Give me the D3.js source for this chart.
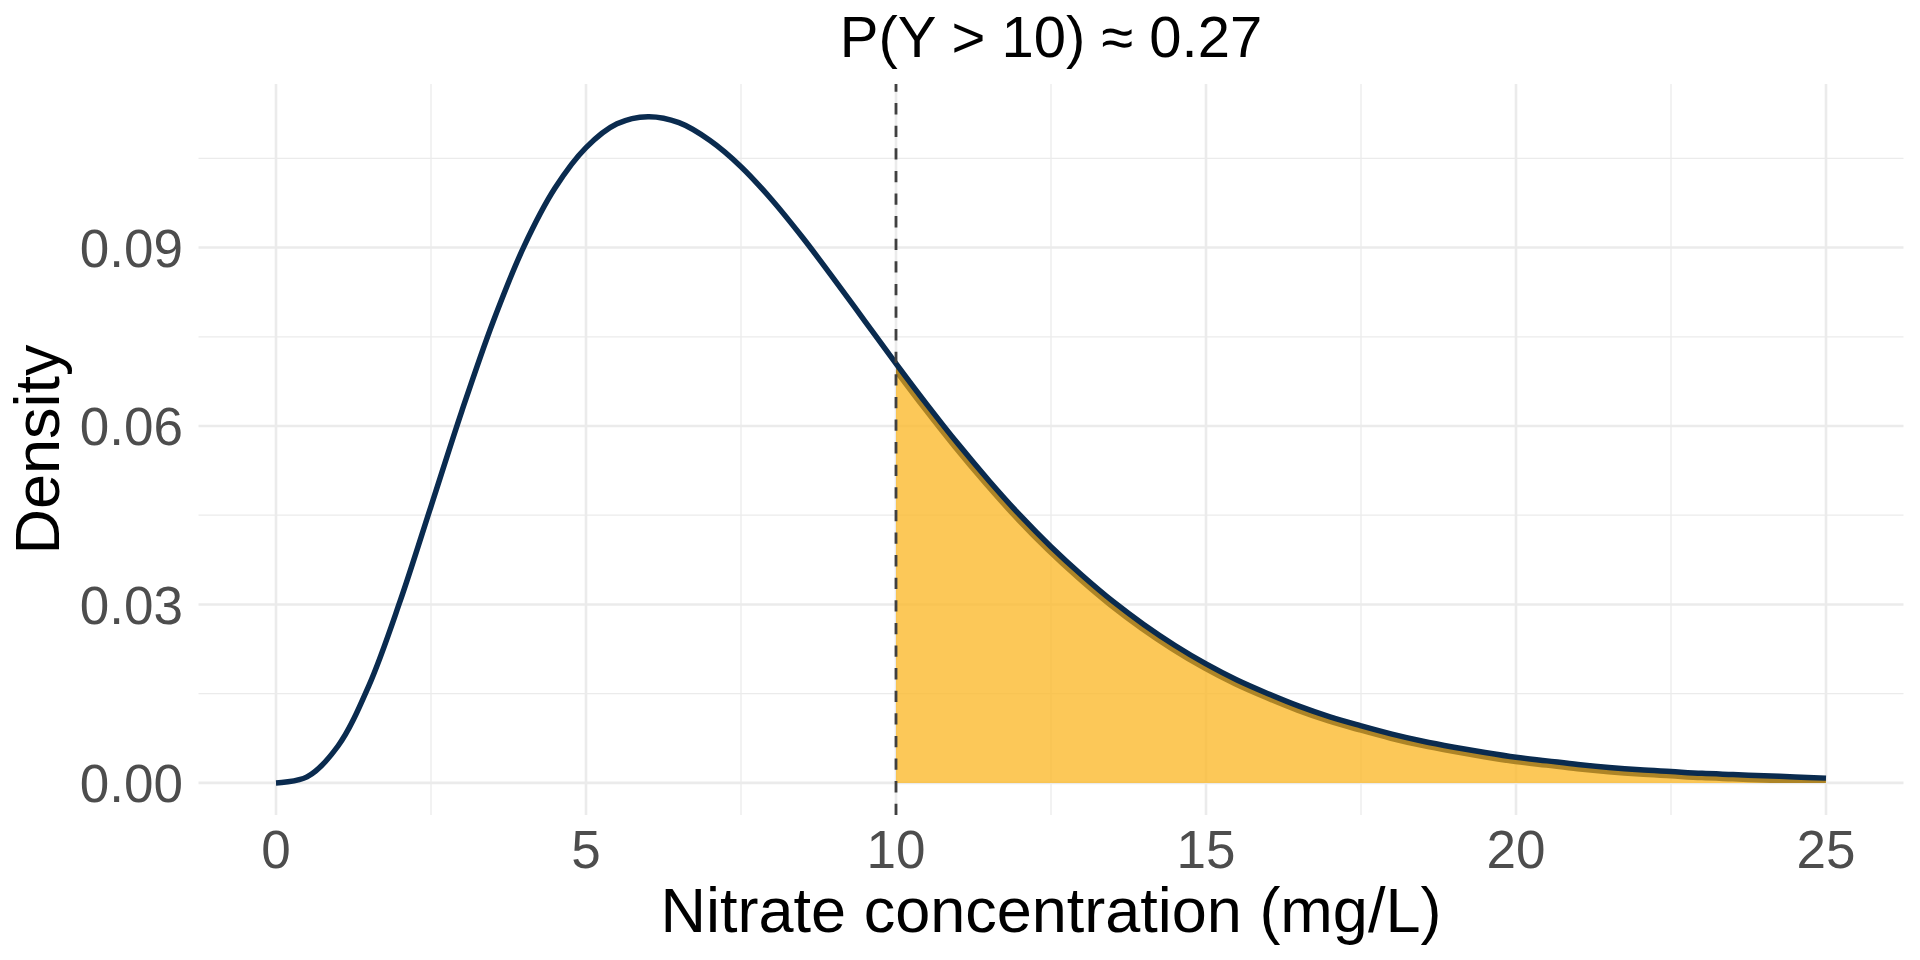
<!DOCTYPE html>
<html>
<head>
<meta charset="utf-8">
<script src="https://cdn.jsdelivr.net/npm/d3@7"></script>
<style>
  body { margin: 0; background: #ffffff; }
  svg { display: block; font-family: "Liberation Sans", Arial, Helvetica, sans-serif; }
</style>
</head>
<body>
<svg id="chart"></svg>
<script>
// values
var concentration = [0, 0.5, 1, 1.5, 2, 2.5, 3, 3.5, 4, 4.5, 5, 5.5, 6, 6.5, 7, 7.5, 8, 8.5, 9, 9.5,
  10, 10.5, 11, 11.5, 12, 12.5, 13, 13.5, 14, 14.5, 15, 15.5, 16, 16.5, 17, 17.5, 18, 18.5, 19, 19.5,
  20, 20.5, 21, 21.5, 22, 22.5, 23, 23.5, 24, 24.5, 25];
var density = [0.0000, 0.0010, 0.0062, 0.0164, 0.0305, 0.0465, 0.0626, 0.0775, 0.0902, 0.1000,
  0.1068, 0.1108, 0.1120, 0.1110, 0.1080, 0.1036, 0.0980, 0.0916, 0.0847, 0.0776,
  0.0705, 0.0636, 0.0570, 0.0508, 0.0450, 0.0397, 0.0349, 0.0305, 0.0266, 0.0231,
  0.0200, 0.0173, 0.0150, 0.0129, 0.0111, 0.0096, 0.0082, 0.0070, 0.0060, 0.0051,
  0.0043, 0.0037, 0.0031, 0.0026, 0.0022, 0.0019, 0.0016, 0.0014, 0.0012, 0.0010, 0.0008];
var threshold = 10;
var titleText = "P(Y > 10) \u2248 0.27";

var xMajor = [0, 5, 10, 15, 20, 25];
var xMinor = [2.5, 7.5, 12.5, 17.5, 22.5];
var yMajor = [0, 0.03, 0.06, 0.09];
var yMinor = [0.015, 0.045, 0.075, 0.105];

var width = 1920, height = 960;
var panel = { left: 198.5, right: 1903.5, top: 84, bottom: 815 };

var svg = d3.select("#chart")
  .attr("width", width)
  .attr("height", height);

var x = d3.scaleLinear().domain([-1.25, 26.25]).range([panel.left, panel.right]);
var y = d3.scaleLinear().domain([-0.0054, 0.1175]).range([panel.bottom, panel.top]);

var points = concentration.map(function(c, i) { return { x: c, y: density[i] }; });
var tail = points.filter(function(d) { return d.x >= threshold; });

// grid
var grid = svg.append("g");
grid.selectAll(".xminor").data(xMinor).enter().append("line")
  .attr("x1", d => x(d)).attr("x2", d => x(d))
  .attr("y1", panel.top).attr("y2", panel.bottom)
  .attr("stroke", "#ebebeb").attr("stroke-width", 1.3);
grid.selectAll(".yminor").data(yMinor).enter().append("line")
  .attr("y1", d => y(d)).attr("y2", d => y(d))
  .attr("x1", panel.left).attr("x2", panel.right)
  .attr("stroke", "#ebebeb").attr("stroke-width", 1.3);
grid.selectAll(".xmajor").data(xMajor).enter().append("line")
  .attr("x1", d => x(d)).attr("x2", d => x(d))
  .attr("y1", panel.top).attr("y2", panel.bottom)
  .attr("stroke", "#ebebeb").attr("stroke-width", 2.6);
grid.selectAll(".ymajor").data(yMajor).enter().append("line")
  .attr("y1", d => y(d)).attr("y2", d => y(d))
  .attr("x1", panel.left).attr("x2", panel.right)
  .attr("stroke", "#ebebeb").attr("stroke-width", 2.6);

var curve = d3.curveCatmullRom.alpha(0.5);

var area = d3.area()
  .x(d => x(d.x))
  .y0(y(0))
  .y1(d => y(d.y))
  .curve(curve);

var line = d3.line()
  .x(d => x(d.x))
  .y(d => y(d.y))
  .curve(curve);

// shaded tail
svg.append("clipPath").attr("id", "tailClip")
  .append("path").attr("d", area(tail));

svg.append("path")
  .attr("d", area(tail))
  .attr("fill", "#fbb829")
  .attr("fill-opacity", 0.78);

svg.append("path")
  .attr("d", line(tail))
  .attr("clip-path", "url(#tailClip)")
  .attr("fill", "none")
  .attr("stroke", "#ad8426")
  .attr("stroke-width", 14);

// density curve
svg.append("path")
  .attr("d", line(points))
  .attr("fill", "none")
  .attr("stroke", "#0a2b4f")
  .attr("stroke-width", 5.5)
  .attr("stroke-linecap", "butt")
  .attr("stroke-linejoin", "round");

// threshold line
svg.append("line")
  .attr("x1", x(threshold)).attr("x2", x(threshold))
  .attr("y1", panel.bottom).attr("y2", panel.top)
  .attr("stroke", "#404040")
  .attr("stroke-width", 2.8)
  .attr("stroke-dasharray", "11.3,11.3");

// tick labels
svg.append("g").selectAll("text").data(xMajor).enter().append("text")
  .attr("x", d => x(d))
  .attr("y", 868)
  .attr("text-anchor", "middle")
  .attr("font-size", 53)
  .attr("fill", "#4d4d4d")
  .text(d => d);

svg.append("g").selectAll("text").data(yMajor).enter().append("text")
  .attr("x", 183)
  .attr("y", d => y(d))
  .attr("dy", "0.36em")
  .attr("text-anchor", "end")
  .attr("font-size", 53)
  .attr("fill", "#4d4d4d")
  .text(d => d3.format(".2f")(d));

// titles
svg.append("text")
  .attr("x", (panel.left + panel.right) / 2)
  .attr("y", 932)
  .attr("text-anchor", "middle")
  .attr("font-size", 63)
  .attr("fill", "#000000")
  .text("Nitrate concentration (mg/L)");

svg.append("text")
  .attr("transform", "translate(59," + ((panel.top + panel.bottom) / 2) + ") rotate(-90)")
  .attr("text-anchor", "middle")
  .attr("font-size", 63)
  .attr("fill", "#000000")
  .text("Density");

svg.append("text")
  .attr("x", (panel.left + panel.right) / 2)
  .attr("y", 57)
  .attr("text-anchor", "middle")
  .attr("font-size", 58)
  .attr("fill", "#000000")
  .text(titleText);
</script>
</body>
</html>
